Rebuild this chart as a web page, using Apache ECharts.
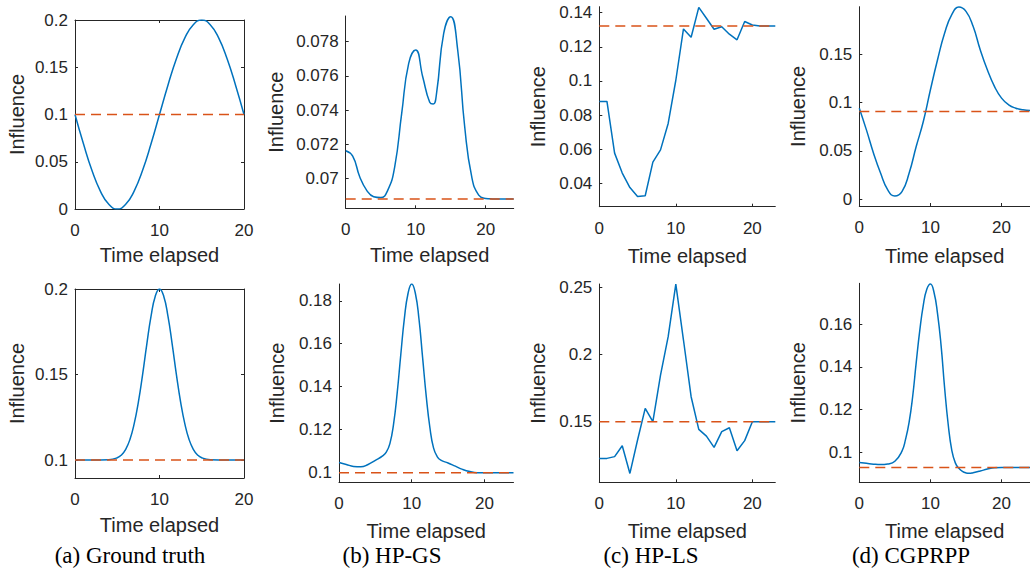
<!DOCTYPE html>
<html><head><meta charset="utf-8">
<script src="https://cdn.jsdelivr.net/npm/echarts@6/dist/echarts.min.js"></script>
<style>html,body{margin:0;padding:0;background:#fff}#c{width:1030px;height:576px}</style>
</head><body><div id="c"></div><script>
// ---------- data ----------
const captions = ['(a) Ground truth', '(b) HP-GS', '(c) HP-LS', '(d) CGPRPP'];
const xTicks = [0, 10, 20];

// (a) Ground truth, top
const tA1 = [0,1,2,3,4,5,6,7,8,9,10,11,12,13,14,15,16,17,18,19,20];
const vA1 = [0.1,0.069,0.041,0.019,0.005,0,0.005,0.019,0.041,0.069,0.1,0.131,0.159,0.181,0.195,0.2,0.195,0.181,0.159,0.131,0.1];
const baseA1 = 0.1;
const yTicksA1 = [0, 0.05, 0.1, 0.15, 0.2];

// (a) Ground truth, bottom
const tA2 = [0,2,4,5,5.5,6,6.5,7,7.5,8,8.5,9,9.5,10,10.5,11,11.5,12,12.5,13,13.5,14,14.5,15,16,18,20];
const vA2 = [0.1,0.1,0.1002,0.1013,0.103,0.1063,0.112,0.1211,0.1339,0.15,0.1678,0.1841,0.1958,0.2,0.1958,0.1841,0.1678,0.15,0.1339,0.1211,0.112,0.1063,0.103,0.1013,0.1002,0.1,0.1];
const baseA2 = 0.1;
const yTicksA2 = [0.1, 0.15, 0.2];

// (b) HP-GS, top
const tB1 = [0,1,2,3,4,5,6,7,8,9,10,11,12,12.5,13,14,15,16,17,18,19,20,21,22,23,24];
const vB1 = [0.07162,0.0713,0.0701,0.0693,0.06893,0.06888,0.0693,0.07068,0.0738,0.07673,0.07751,0.07595,0.07445,0.07435,0.07505,0.07849,0.07946,0.07751,0.07302,0.0701,0.06902,0.06883,0.0688,0.06879,0.06879,0.06879];
const baseB1 = 0.06879;
const yTicksB1 = [0.07, 0.072, 0.074, 0.076, 0.078];

// (b) HP-GS, bottom
const tB2 = [0,1,2,3,4,5,6,6.5,7,7.5,8,8.5,9,9.5,10,10.5,11,11.5,12,12.5,13,13.5,14,15,16,17,18,19,20,22,24];
const vB2 = [0.1047,0.1038,0.1029,0.1027,0.1038,0.1057,0.1078,0.1095,0.1135,0.1225,0.137,0.155,0.172,0.1835,0.1878,0.1835,0.1715,0.1535,0.1355,0.121,0.1115,0.1075,0.1058,0.1045,0.103,0.1015,0.1005,0.1,0.1,0.1,0.1];
const baseB2 = 0.1;
const yTicksB2 = [0.1, 0.12, 0.14, 0.16, 0.18];

// (c) HP-LS, top
const tC1 = [0,1,2,3,4,5,6,7,8,9,10,11,12,13,14,15,16,17,18,19,20,21,22,23];
const vC1 = [0.088,0.088,0.0577,0.046,0.0375,0.0323,0.0327,0.0524,0.0596,0.0751,0.1004,0.1305,0.1256,0.1431,0.1367,0.1303,0.1318,0.1274,0.1241,0.1348,0.1328,0.1322,0.1322,0.1322];
const baseC1 = 0.1322;
const yTicksC1 = [0.04, 0.06, 0.08, 0.1, 0.12, 0.14];

// (c) HP-LS, bottom
const tC2 = [0,1,2,3,4,5,6,7,8,9,10,11,12,13,14,15,16,17,18,19,20,21,22,23];
const vC2 = [0.1227,0.1227,0.124,0.1321,0.1115,0.1364,0.1599,0.15,0.1847,0.2133,0.2524,0.2108,0.1686,0.1443,0.1393,0.1309,0.1426,0.1455,0.1284,0.1359,0.15,0.15,0.15,0.15];
const baseC2 = 0.15;
const yTicksC2 = [0.15, 0.2, 0.25];

// (d) CGPRPP, top
const tD1 = [0,1,2,3,4,5,6,7,8,9,10,11,12,13,14,15,16,17,18,19,20,21,22,23,24];
const vD1 = [0.0941,0.0717,0.0476,0.0269,0.0097,0.0034,0.008,0.0269,0.0545,0.0803,0.1131,0.1441,0.1717,0.1907,0.1986,0.1941,0.1786,0.1545,0.1338,0.1166,0.1045,0.0976,0.0941,0.0924,0.0917];
const baseD1 = 0.0907;
const yTicksD1 = [0, 0.05, 0.1, 0.15];

// (d) CGPRPP, bottom
const tD2 = [0,1,2,3,4,5,6,6.5,7,7.5,8,8.5,9,9.5,10,10.5,11,11.5,12,12.5,13,13.5,14,14.5,15,15.5,16,17,18,19,20,22,24];
const vD2 = [0.0952,0.0948,0.0944,0.0942,0.0945,0.0958,0.1005,0.106,0.114,0.126,0.142,0.157,0.169,0.1765,0.1789,0.175,0.165,0.15,0.13,0.113,0.101,0.095,0.0925,0.091,0.0903,0.0901,0.0904,0.0912,0.0921,0.0927,0.0928,0.0928,0.0928];
const baseD2 = 0.0928;
const yTicksD2 = [0.1, 0.12, 0.14, 0.16];

// ---------- layout ----------
const panels = [
  {t:tA1, v:vA1, base:baseA1, yt:yTicksA1, xmax:20, ymin:0, ymax:0.2, box:true, smooth:true, g:{left:75, top:20, width:169, height:189}, xGap:36, yGap:48.5},
  {t:tA2, v:vA2, base:baseA2, yt:yTicksA2, xmax:20, ymin:0.0895, ymax:0.2, box:true, smooth:true, g:{left:75, top:289, width:169, height:189}, xGap:36.5, yGap:48.5},
  {t:tB1, v:vB1, base:baseB1, yt:yTicksB1, xmax:24, ymin:0.06825, ymax:0.0795, box:false, smooth:true, g:{left:345.7, top:16, width:168, height:192.3}, xGap:37, yGap:59.5},
  {t:tB2, v:vB2, base:baseB2, yt:yTicksB2, xmax:24, ymin:0.0955, ymax:0.1878, box:false, smooth:true, g:{left:339, top:284, width:174.5, height:198.3}, xGap:38.5, yGap:52.5},
  {t:tC1, v:vC1, base:baseC1, yt:yTicksC1, xmax:23, ymin:0.0263, ymax:0.1435, box:false, smooth:false, g:{left:599.3, top:6.7, width:176, height:200}, xGap:39, yGap:51.5},
  {t:tC2, v:vC2, base:baseC2, yt:yTicksC2, xmax:23, ymin:0.1049, ymax:0.2525, box:false, smooth:false, g:{left:599.3, top:284, width:176, height:198.3}, xGap:38.5, yGap:51.5},
  {t:tD1, v:vD1, base:baseD1, yt:yTicksD1, xmax:24, ymin:-0.0069, ymax:0.1989, box:false, smooth:true, g:{left:859.3, top:6.7, width:175, height:199.3}, xGap:39.5, yGap:51.5},
  {t:tD2, v:vD2, base:baseD2, yt:yTicksD2, xmax:24, ymin:0.0859, ymax:0.1792, box:false, smooth:true, g:{left:859.3, top:283.3, width:175, height:199}, xGap:38.5, yGap:51.5}
];
const captionX = [130, 392, 651, 911];

const axisColor = '#262626';
const sans = 'Liberation Sans, Arial, Helvetica, sans-serif';
const grids = [], xAxes = [], yAxes = [], series = [];

panels.forEach((p, i) => {
  grids.push(Object.assign({containLabel:false}, p.g));
  const xi = xAxes.length, yi = yAxes.length;
  xAxes.push({
    type:'value', gridIndex:i, min:0, max:p.xmax,
    name:'Time elapsed', nameLocation:'middle', nameGap:p.xGap,
    nameTextStyle:{fontSize:20, color:axisColor, fontFamily:sans},
    axisLine:{show:true, onZero:false, lineStyle:{color:axisColor, width:1}},
    axisTick:{show:true, inside:true, length:3, customValues:xTicks, lineStyle:{color:axisColor}},
    axisLabel:{show:true, margin:13, fontSize:17, color:axisColor, fontFamily:sans, customValues:xTicks},
    splitLine:{show:false}
  });
  yAxes.push({
    type:'value', gridIndex:i, min:p.ymin, max:p.ymax,
    name:'Influence', nameLocation:'middle', nameGap:p.yGap,
    nameTextStyle:{fontSize:20, color:axisColor, fontFamily:sans},
    axisLine:{show:true, onZero:false, lineStyle:{color:axisColor, width:1}},
    axisTick:{show:true, inside:true, length:3, customValues:p.yt, lineStyle:{color:axisColor}},
    axisLabel:{show:true, margin:7, fontSize:17, color:axisColor, fontFamily:sans, customValues:p.yt},
    splitLine:{show:false}
  });
  if (p.box) {
    xAxes.push({
      type:'value', gridIndex:i, min:0, max:p.xmax, position:'top',
      axisLine:{show:true, onZero:false, lineStyle:{color:axisColor, width:1}},
      axisTick:{show:true, inside:true, length:3, customValues:xTicks, lineStyle:{color:axisColor}},
      axisLabel:{show:false}, splitLine:{show:false}
    });
    yAxes.push({
      type:'value', gridIndex:i, min:p.ymin, max:p.ymax, position:'right',
      axisLine:{show:true, onZero:false, lineStyle:{color:axisColor, width:1}},
      axisTick:{show:true, inside:true, length:3, customValues:p.yt, lineStyle:{color:axisColor}},
      axisLabel:{show:false}, splitLine:{show:false}
    });
  }
  series.push({
    type:'line', xAxisIndex:xi, yAxisIndex:yi,
    data:p.t.map((x, k) => [x, p.v[k]]),
    showSymbol:false, smooth:p.smooth ? 0.5 : false,
    lineStyle:{color:'#0072BD', width:1.5}, z:2
  });
  series.push({
    type:'line', xAxisIndex:xi, yAxisIndex:yi,
    data:[[0, p.base], [p.xmax, p.base]],
    showSymbol:false,
    lineStyle:{color:'#D95319', width:1.5, type:[10, 6]}, z:3
  });
});

const chart = echarts.init(document.getElementById('c'), null, {renderer:'svg'});
chart.setOption({
  animation:false,
  backgroundColor:'#ffffff',
  grid:grids, xAxis:xAxes, yAxis:yAxes, series:series,
  graphic:captions.map((c, i) => ({
    type:'text', x:captionX[i], y:555,
    style:{text:c, fontSize:23, fontFamily:'Liberation Serif, Times New Roman, serif', fill:'#000', textAlign:'center', textVerticalAlign:'middle'}
  }))
});
</script></body></html>
